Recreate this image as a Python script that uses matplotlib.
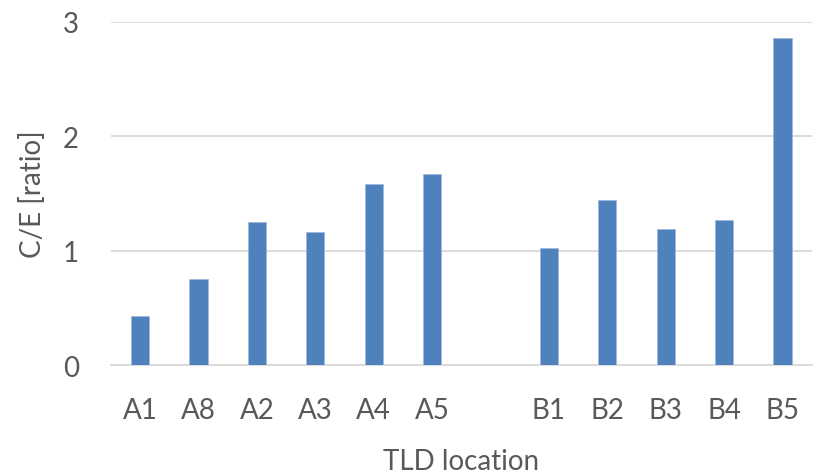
import numpy as np
import matplotlib.pyplot as plt

plt.rcParams['font.family'] = ['Lato', 'DejaVu Sans']

# C/E ratio per TLD location; the blank entry separates group A from group B
locations = ["A1", "A8", "A2", "A3", "A4", "A5", "", "B1", "B2", "B3", "B4", "B5"]
ratios = [0.43, 0.75, 1.25, 1.16, 1.58, 1.67, np.nan, 1.02, 1.44, 1.19, 1.27, 2.86]

text_color = "#595959"

fig = plt.figure(figsize=(8.15, 4.77), dpi=100)
ax = fig.add_axes([0.136, 0.2327, 0.860, 0.7193])

x = np.arange(len(locations))
ax.bar(x, ratios, width=0.31, color="#4F81BD", edgecolor="#9DB8DC", linewidth=0.6, zorder=3)

ax.set_xlim(-0.5, len(locations) - 0.5)
ax.set_ylim(0, 3)
ax.set_yticks([0, 1, 2, 3])
ax.set_xticks(x)
ax.set_xticklabels(locations)

ax.yaxis.grid(True, color="#D9D9D9", linewidth=1.3, zorder=0)
ax.set_axisbelow(True)
for side in ["top", "right", "left"]:
    ax.spines[side].set_visible(False)
ax.spines["bottom"].set_color("#D9D9D9")
ax.spines["bottom"].set_linewidth(1.3)

ax.tick_params(axis="both", length=0, labelsize=20, colors=text_color)
ax.tick_params(axis="y", pad=23)
ax.tick_params(axis="x", pad=23)

ax.set_xlabel("TLD location", fontsize=20, color=text_color, labelpad=18)
ax.set_ylabel("C/E [ratio]", fontsize=20, color=text_color, labelpad=12)

fig.savefig("out.png", dpi=100)
